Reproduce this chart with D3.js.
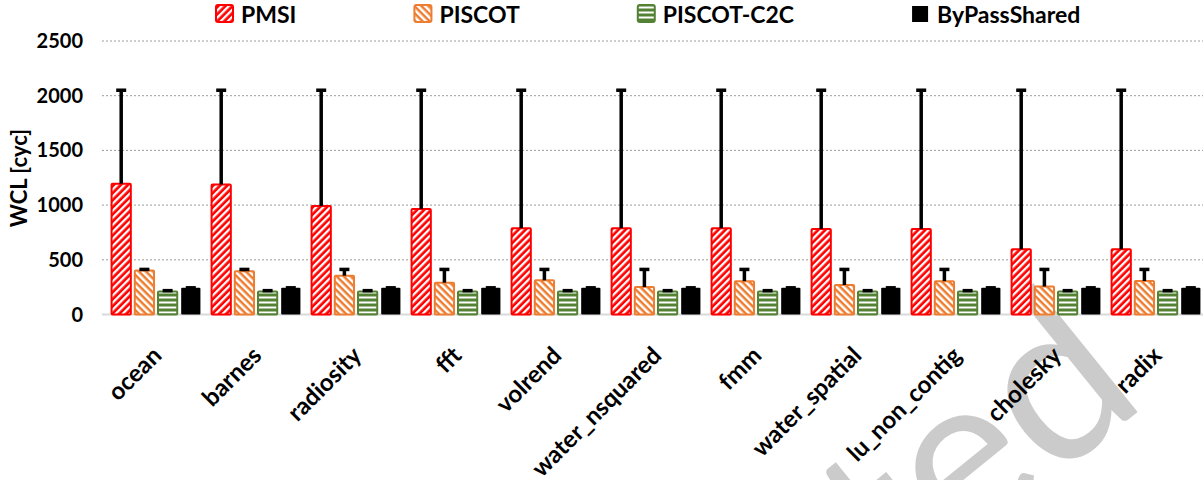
<!DOCTYPE html>
<html>
<head>
<meta charset="utf-8">
<script src="https://cdn.jsdelivr.net/npm/d3@7"></script>
<style>
  body { margin: 0; background: #fff; }
  svg { display: block; font-family: Lato, 'Open Sans', sans-serif; font-weight: 700; }
</style>
</head>
<body>
<div id="chart"></div>
<script>
const categories = ['ocean', 'barnes', 'radiosity', 'fft', 'volrend', 'water_nsquared',
  'fmm', 'water_spatial', 'lu_non_contig', 'cholesky', 'radix'];
const seriesNames = ['PMSI', 'PISCOT', 'PISCOT-C2C', 'ByPassShared'];

// bar heights (cycles)
const pmsiValues   = [1195, 1188, 992, 965, 788, 788, 788, 782, 782, 596, 596];
const piscotValues = [402, 396, 355, 291, 313, 252, 305, 270, 305, 256, 306];
const c2cValues    = [210, 210, 210, 210, 210, 210, 210, 210, 210, 210, 210];
const bypassValues = [244, 244, 244, 244, 244, 244, 244, 244, 244, 244, 244];

// top of the error bars
const pmsiMax   = [2050, 2050, 2050, 2050, 2050, 2050, 2050, 2050, 2050, 2050, 2050];
const piscotMax = [412, 412, 412, 412, 412, 412, 412, 412, 412, 412, 412];
const c2cMax    = [218, 218, 218, 218, 218, 218, 218, 218, 218, 218, 218];
const bypassMax = [244, 244, 244, 244, 244, 244, 244, 244, 244, 244, 244];

const yTicks = [0, 500, 1000, 1500, 2000, 2500];

const width = 1203, height = 480;
const values = [pmsiValues, piscotValues, c2cValues, bypassValues];
const maxes = [pmsiMax, piscotMax, c2cMax, bypassMax];

const colors = { 'PMSI': '#ff0000', 'PISCOT': '#ed7d31', 'PISCOT-C2C': '#548235', 'ByPassShared': '#000000' };
const fills = { 'PMSI': 'url(#pat-pmsi)', 'PISCOT': 'url(#pat-piscot)', 'PISCOT-C2C': 'url(#pat-c2c)', 'ByPassShared': '#000' };

const xScale = d3.scaleBand()
  .domain(categories)
  .range([106, 1206])
  .paddingInner(0.072)
  .paddingOuter(0.036);

const xSub = d3.scaleBand()
  .domain(seriesNames)
  .range([0, xScale.bandwidth()])
  .paddingInner(0.17)
  .paddingOuter(0.085);

const yScale = d3.scaleLinear()
  .domain([0, 2500])
  .range([314.5, 41]);

const svg = d3.select('#chart')
  .append('svg')
    .attr('width', width)
    .attr('height', height);

// patterns
const defs = svg.append('defs');
const pmsiPat = defs.append('pattern')
    .attr('id', 'pat-pmsi')
    .attr('patternUnits', 'userSpaceOnUse')
    .attr('width', 5).attr('height', 10)
    .attr('patternTransform', 'rotate(45)');
pmsiPat.append('rect').attr('width', 5).attr('height', 10).attr('fill', '#ff0000');
pmsiPat.append('rect').attr('x', 0).attr('width', 2.3).attr('height', 10).attr('fill', '#fff');

const piscotPat = defs.append('pattern')
    .attr('id', 'pat-piscot')
    .attr('patternUnits', 'userSpaceOnUse')
    .attr('width', 5).attr('height', 10)
    .attr('patternTransform', 'rotate(-45)');
piscotPat.append('rect').attr('width', 5).attr('height', 10).attr('fill', '#ed7d31');
piscotPat.append('rect').attr('x', 0).attr('width', 2.5).attr('height', 10).attr('fill', '#fff');

const c2cPat = defs.append('pattern')
    .attr('id', 'pat-c2c')
    .attr('patternUnits', 'userSpaceOnUse')
    .attr('width', 10).attr('height', 5);
c2cPat.append('rect').attr('width', 10).attr('height', 5).attr('fill', '#548235');
c2cPat.append('rect').attr('y', 1.5).attr('width', 10).attr('height', 2).attr('fill', '#fff');

// gridlines
svg.append('g')
  .selectAll('line')
  .data(yTicks.filter(t => t > 0))
  .join('line')
    .attr('x1', 102).attr('x2', width)
    .attr('y1', d => yScale(d)).attr('y2', d => yScale(d))
    .attr('stroke', '#9c9c9c')
    .attr('stroke-width', 1)
    .attr('stroke-dasharray', '2,2');

// watermark in the corner
svg.append('text')
    .text('ted')
    .attr('transform', 'translate(1150, 402) rotate(-39)')
    .attr('text-anchor', 'end')
    .style('font-size', '225px')
    .style('font-weight', 400)
    .attr('fill', '#cbcbcb');

// axis line
svg.append('line')
    .attr('x1', 102).attr('x2', width)
    .attr('y1', yScale(0)).attr('y2', yScale(0))
    .attr('stroke', '#d9d9d9')
    .attr('stroke-width', 2);

// y tick labels
svg.append('g')
  .selectAll('text')
  .data(yTicks)
  .join('text')
    .text(d => d)
    .attr('x', 83)
    .attr('y', d => yScale(d))
    .attr('dy', '0.35em')
    .attr('text-anchor', 'end')
    .style('font-size', '20px');

svg.append('text')
    .text('WCL [cyc]')
    .attr('transform', `translate(27, 178) rotate(-90)`)
    .attr('text-anchor', 'middle')
    .style('font-size', '22px');

// bars
const groups = svg.append('g')
  .selectAll('g')
  .data(categories)
  .join('g')
    .attr('transform', d => `translate(${xScale(d)},0)`);

const bars = groups.selectAll('g.bar')
  .data((c, ci) => seriesNames.map((s, si) => ({ key: s, value: values[si][ci], max: maxes[si][ci] })))
  .join('g')
    .attr('class', 'bar');

bars.append('rect')
    .attr('x', d => xSub(d.key))
    .attr('y', d => yScale(d.value))
    .attr('width', xSub.bandwidth())
    .attr('height', d => yScale(0) - yScale(d.value))
    .attr('fill', d => fills[d.key])
    .attr('stroke', d => d.key === 'ByPassShared' ? 'none' : colors[d.key])
    .attr('stroke-width', 2)
    .attr('rx', 1);

// error bars (plus direction only)
bars.append('line')
    .attr('x1', d => xSub(d.key) + xSub.bandwidth() / 2)
    .attr('x2', d => xSub(d.key) + xSub.bandwidth() / 2)
    .attr('y1', d => yScale(d.value))
    .attr('y2', d => yScale(d.max))
    .attr('stroke', '#000')
    .attr('stroke-width', 3.5);

bars.append('line')
    .attr('x1', d => xSub(d.key) + xSub.bandwidth() / 2 - 5)
    .attr('x2', d => xSub(d.key) + xSub.bandwidth() / 2 + 5)
    .attr('y1', d => yScale(d.max))
    .attr('y2', d => yScale(d.max))
    .attr('stroke', '#000')
    .attr('stroke-width', 3.5);

// category labels
svg.append('g')
  .selectAll('text')
  .data(categories)
  .join('text')
    .text(d => d)
    .attr('transform', d => `translate(${xScale(d) + xScale.bandwidth() / 2 + 7}, 357) rotate(-45)`)
    .attr('text-anchor', 'end')
    .style('font-size', '24px');

// legend
const legend = svg.append('g');
let lx = 215;
seriesNames.forEach(s => {
  const item = legend.append('g');
  if (s === 'ByPassShared') {
    item.append('rect')
        .attr('x', lx + 1).attr('y', 6)
        .attr('width', 16).attr('height', 16)
        .attr('fill', '#000');
  } else {
    item.append('rect')
        .attr('x', lx + 1).attr('y', 5)
        .attr('width', 17).attr('height', 17)
        .attr('rx', 2)
        .attr('fill', fills[s])
        .attr('stroke', colors[s])
        .attr('stroke-width', 2);
  }
  const label = item.append('text')
      .text(s)
      .attr('x', lx + 26)
      .attr('y', 22.5)
      .style('font-size', '23px');
  lx += 26 + label.node().getComputedTextLength() + 117;
});
</script>
</body>
</html>
